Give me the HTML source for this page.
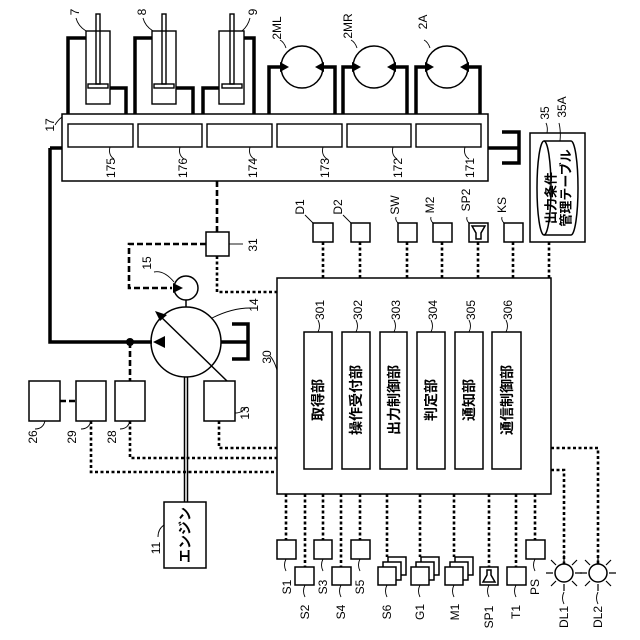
<!DOCTYPE html>
<html><head><meta charset="utf-8"><style>
html,body{margin:0;padding:0;background:#fff}
svg{display:block}
text{font-family:"Liberation Sans","Noto Sans CJK JP",sans-serif;fill:#000}
</style></head><body>
<svg width="640" height="640" viewBox="0 0 640 640" xmlns="http://www.w3.org/2000/svg">
<g fill="none" stroke="#000">
<rect x="62" y="114" width="426" height="67" stroke-width="1.5"/>
<g stroke-width="1.4">
<rect x="68" y="124" width="65" height="23"/>
<rect x="138" y="124" width="64" height="23"/>
<rect x="207" y="124" width="65" height="23"/>
<rect x="277" y="124" width="65" height="23"/>
<rect x="347" y="124" width="64" height="23"/>
<rect x="416" y="124" width="65" height="23"/>
</g>
<g stroke-width="1.4">
<rect x="86" y="31" width="24" height="73"/><rect x="96" y="14" width="4" height="70"/><rect x="88" y="84" width="20" height="4"/>
<rect x="152" y="31" width="24" height="73"/><rect x="162" y="14" width="4" height="70"/><rect x="154" y="84" width="20" height="4"/>
<rect x="219" y="31" width="25" height="73"/><rect x="230" y="14" width="4" height="70"/><rect x="222" y="84" width="20" height="4"/>
</g>
<g stroke-width="3.5">
<polyline points="68,114 68,38 86,38"/><polyline points="110,88 126,88 126,114"/>
<polyline points="135,114 135,38 152,38"/><polyline points="176,88 193,88 193,114"/>
<polyline points="203,114 203,88 219,88"/><polyline points="244,38 254,38 254,114"/>
<polyline points="269,114 269,67 281,67"/><polyline points="323,67 335,67 335,114"/>
<polyline points="343,114 343,67 353,67"/><polyline points="395,67 407,67 407,114"/>
<polyline points="416,114 416,67 426,67"/><polyline points="468,67 480,67 480,114"/>
<polyline points="488,148 519,148"/><polyline points="502,132 519,132 519,163 502,163"/>
<polyline points="50,148 62,148"/><polyline points="50,148 50,342 152,342"/>
<polyline points="221,342 248,342"/><polyline points="232,324 248,324 248,359 232,359"/>
</g>
<g stroke-width="1.5">
<circle cx="302" cy="67" r="21"/><circle cx="374" cy="67" r="21"/><circle cx="447" cy="67" r="21"/>
<circle cx="186" cy="342" r="35"/><circle cx="186" cy="288" r="12"/>
<line x1="186" y1="300" x2="186" y2="307"/>
<line x1="157" y1="313" x2="227" y2="381"/>
<rect x="206" y="232" width="23" height="24"/>
<rect x="277" y="278" width="274" height="216"/>
<rect x="304" y="332" width="28" height="137"/><rect x="342" y="332" width="28" height="137"/>
<rect x="380" y="332" width="27" height="137"/><rect x="417" y="332" width="28" height="137"/>
<rect x="455" y="332" width="28" height="137"/><rect x="492" y="332" width="29" height="137"/>
<rect x="204" y="381" width="31" height="40"/><rect x="115" y="381" width="30" height="40"/>
<rect x="76" y="381" width="30" height="40"/><rect x="29" y="381" width="31" height="40"/>
<rect x="164" y="502" width="42" height="66"/>
<line x1="184.5" y1="377" x2="184.5" y2="502"/><line x1="187.5" y1="377" x2="187.5" y2="502"/>
<rect x="530" y="133" width="55" height="109"/>
<path d="M544,141 L571,141 A7,47 0 0 1 571,235 L544,235 A7,47 0 0 1 544,141 Z"/>
<path d="M544,141 A7,47 0 0 1 544,235"/>
<rect x="313" y="223" width="20" height="19"/><rect x="351" y="223" width="19" height="19"/>
<rect x="398" y="223" width="19" height="19"/><rect x="433" y="223" width="19" height="19"/>
<rect x="469" y="223" width="19" height="19"/><path d="M472,226 L485,226 L481,233 L481,239 L476,239 L476,233 Z"/>
<rect x="504" y="223" width="19" height="19"/>
<rect x="277" y="540" width="19" height="19"/><rect x="295" y="567" width="19" height="18"/>
<rect x="314" y="540" width="18" height="19"/><rect x="332" y="567" width="19" height="18"/>
<rect x="351" y="540" width="19" height="19"/>
<rect x="388" y="557" width="18" height="18" fill="#fff"/><rect x="383" y="562" width="18" height="18" fill="#fff"/><rect x="378" y="567" width="18" height="18" fill="#fff"/>
<rect x="421" y="557" width="18" height="18" fill="#fff"/><rect x="416" y="562" width="18" height="18" fill="#fff"/><rect x="411" y="567" width="18" height="18" fill="#fff"/>
<rect x="455" y="557" width="18" height="18" fill="#fff"/><rect x="450" y="562" width="18" height="18" fill="#fff"/><rect x="445" y="567" width="18" height="18" fill="#fff"/>
<rect x="480" y="567" width="18" height="18"/><path d="M483,582 L495,582 L491,575 L491,570 L487,570 L487,575 Z"/>
<rect x="507" y="567" width="19" height="18"/>
<rect x="526" y="540" width="19" height="19"/>
<circle cx="564" cy="573" r="9"/><circle cx="598" cy="573" r="9"/>
</g>
<g stroke-width="1.2">
<path d="M564,562v-7M564,584v7M553,573h-7M575,573h7M556,565l-5,-5M572,565l5,-5M556,581l-5,5M572,581l5,5"/>
<path d="M598,562v-7M598,584v7M587,573h-7M609,573h7M590,565l-5,-5M606,565l5,-5M590,581l-5,5M606,581l5,5"/>
</g>
<g stroke-width="2.6" stroke-dasharray="6,3">
<polyline points="217,181 217,232"/><polyline points="206,244 129,244 129,288 172,288"/>
<polyline points="130,342 130,381"/><polyline points="60,401 76,401"/>
</g>
<g stroke-width="2.6" stroke-dasharray="3,2.5">
<polyline points="217,256 217,292 277,292"/>
<polyline points="219,421 219,448 277,448"/><polyline points="130,421 130,458 277,458"/><polyline points="91,421 91,472 277,472"/>
<line x1="323" y1="242" x2="323" y2="278"/><line x1="360" y1="242" x2="360" y2="278"/><line x1="407" y1="242" x2="407" y2="278"/>
<line x1="442" y1="242" x2="442" y2="278"/><line x1="478" y1="242" x2="478" y2="278"/><line x1="513" y1="242" x2="513" y2="278"/>
<line x1="549" y1="242" x2="549" y2="278"/>
<line x1="286" y1="494" x2="286" y2="540"/><line x1="305" y1="494" x2="305" y2="567"/><line x1="323" y1="494" x2="323" y2="540"/>
<line x1="341" y1="494" x2="341" y2="567"/><line x1="360" y1="494" x2="360" y2="540"/><line x1="387" y1="494" x2="387" y2="557"/>
<line x1="420" y1="494" x2="420" y2="557"/><line x1="454" y1="494" x2="454" y2="557"/><line x1="489" y1="494" x2="489" y2="567"/>
<line x1="516" y1="494" x2="516" y2="567"/><line x1="535" y1="494" x2="535" y2="540"/>
<polyline points="551,470 564,470 564,564"/><polyline points="551,448 598,448 598,564"/>
</g>
<g stroke-width="0.9">
<path d="M76,18 q2,8 10,13"/><path d="M143,18 q2,8 10,13"/><path d="M250,18 q-2,8 -8,13"/>
<path d="M286,48 q-2,-6 -6,-8"/><path d="M357,48 q-2,-6 -6,-8"/><path d="M430,48 q-2,-6 -6,-8"/>
<path d="M55,125 q3,-5 7,-8"/>
<path d="M110,147 q-2,8 4,12"/><path d="M180,147 q-2,8 4,12"/><path d="M250,147 q-2,8 4,12"/><path d="M323,147 q-2,8 4,12"/><path d="M393,147 q-2,8 4,12"/><path d="M465,147 q-2,8 4,12"/>
<path d="M547,133 q1,-6 -1,-10"/><path d="M560,141 q1,-10 -1,-18"/>
<path d="M313,223 q-3,-3 -8,-8"/><path d="M351,223 q-3,-3 -8,-8"/><path d="M398,223 q-3,-3 -2,-6"/><path d="M433,223 q-3,-3 -2,-6"/><path d="M469,223 q-3,-3 -2,-6"/><path d="M504,223 q-3,-3 -2,-6"/>
<path d="M229,244 q10,0 14,0"/><path d="M174,282 q-10,-12 -20,-10"/><path d="M212,318 q20,-10 38,-10"/>
<path d="M277,370 q-3,-10 -7,-14"/><path d="M235,413 q8,0 10,-6"/>
<path d="M130,421 q-2,8 -10,8"/><path d="M91,421 q-2,8 -10,8"/><path d="M45,421 q-2,8 -10,8"/>
<path d="M164,525 q-6,4 -6,12"/>
<path d="M318,332 q3,-6 0,-12"/><path d="M356,332 q3,-6 0,-12"/><path d="M394,332 q3,-6 0,-12"/><path d="M431,332 q3,-6 0,-12"/><path d="M469,332 q3,-6 0,-12"/><path d="M506,332 q3,-6 0,-12"/>
<path d="M286,559 q-3,6 0,12"/><path d="M305,585 q-3,6 0,12"/><path d="M323,559 q-3,6 0,12"/><path d="M341,585 q-3,6 0,12"/><path d="M360,559 q-3,6 0,12"/>
<path d="M387,585 q-3,6 0,12"/><path d="M420,585 q-3,6 0,12"/><path d="M454,585 q-3,6 0,12"/><path d="M489,585 q-3,6 0,12"/><path d="M516,585 q-3,6 0,12"/><path d="M535,559 q-3,6 0,12"/>
<path d="M564,592 q-3,6 0,12"/><path d="M598,592 q-3,6 0,12"/>
</g>
</g>
<g fill="#000">
<polygon points="289,67 280,62 280,72"/>
<polygon points="315,67 324,62 324,72"/>
<polygon points="361,67 352,62 352,72"/>
<polygon points="387,67 396,62 396,72"/>
<polygon points="434,67 425,62 425,72"/>
<polygon points="460,67 469,62 469,72"/>
<polygon points="153,342 165,336 165,348"/>
<polygon points="183,288 173,283 173,293"/>
<polygon points="155,311 167,315 160,321"/>
<circle cx="130" cy="342" r="4"/>
</g>
<g font-size="12" text-anchor="middle" dominant-baseline="central">
<text transform="translate(75,12) rotate(-90)">7</text>
<text transform="translate(142,12) rotate(-90)">8</text>
<text transform="translate(253,12) rotate(-90)">9</text>
<text transform="translate(277,28) rotate(-90)">2ML</text>
<text transform="translate(348,26) rotate(-90)">2MR</text>
<text transform="translate(423,22) rotate(-90)">2A</text>
<text transform="translate(50,125) rotate(-90)">17</text>
<text transform="translate(111,168) rotate(-90)">175</text>
<text transform="translate(183,168) rotate(-90)">176</text>
<text transform="translate(253,168) rotate(-90)">174</text>
<text transform="translate(325,168) rotate(-90)">173</text>
<text transform="translate(398,168) rotate(-90)">172</text>
<text transform="translate(470,168) rotate(-90)">171</text>
<text transform="translate(545,113) rotate(-90)">35</text>
<text transform="translate(562,107) rotate(-90)">35A</text>
<text transform="translate(300,207) rotate(-90)">D1</text>
<text transform="translate(338,207) rotate(-90)">D2</text>
<text transform="translate(395,205) rotate(-90)">SW</text>
<text transform="translate(430,205) rotate(-90)">M2</text>
<text transform="translate(466,200) rotate(-90)">SP2</text>
<text transform="translate(502,205) rotate(-90)">KS</text>
<text transform="translate(253,245) rotate(-90)">31</text>
<text transform="translate(147,263) rotate(-90)">15</text>
<text transform="translate(254,305) rotate(-90)">14</text>
<text transform="translate(267,357) rotate(-90)">30</text>
<text transform="translate(245,413) rotate(-90)">13</text>
<text transform="translate(112,437) rotate(-90)">28</text>
<text transform="translate(72,437) rotate(-90)">29</text>
<text transform="translate(33,437) rotate(-90)">26</text>
<text transform="translate(156,548) rotate(-90)">11</text>
<text transform="translate(320,310) rotate(-90)">301</text>
<text transform="translate(358,310) rotate(-90)">302</text>
<text transform="translate(396,310) rotate(-90)">303</text>
<text transform="translate(433,310) rotate(-90)">304</text>
<text transform="translate(471,310) rotate(-90)">305</text>
<text transform="translate(508,310) rotate(-90)">306</text>
<text transform="translate(287,587) rotate(-90)">S1</text>
<text transform="translate(305,612) rotate(-90)">S2</text>
<text transform="translate(323,587) rotate(-90)">S3</text>
<text transform="translate(341,612) rotate(-90)">S4</text>
<text transform="translate(360,587) rotate(-90)">S5</text>
<text transform="translate(387,612) rotate(-90)">S6</text>
<text transform="translate(420,612) rotate(-90)">G1</text>
<text transform="translate(455,612) rotate(-90)">M1</text>
<text transform="translate(489,617) rotate(-90)">SP1</text>
<text transform="translate(516,612) rotate(-90)">T1</text>
<text transform="translate(535,587) rotate(-90)">PS</text>
<text transform="translate(564,617) rotate(-90)">DL1</text>
<text transform="translate(598,617) rotate(-90)">DL2</text>
</g>
<g font-size="14" text-anchor="middle" dominant-baseline="central" font-weight="bold">
<text transform="translate(318,400) rotate(-90)">取得部</text>
<text transform="translate(356,400) rotate(-90)">操作受付部</text>
<text transform="translate(394,400) rotate(-90)">出力制御部</text>
<text transform="translate(431,400) rotate(-90)">判定部</text>
<text transform="translate(469,400) rotate(-90)">通知部</text>
<text transform="translate(507,400) rotate(-90)">通信制御部</text>
<text transform="translate(185,535) rotate(-90)" font-size="14">エンジン</text>
</g>
<g font-size="13" text-anchor="middle" dominant-baseline="central" font-weight="bold">
<text transform="translate(551,198) rotate(-90)">出力条件</text>
<text transform="translate(566,188) rotate(-90)">管理テーブル</text>
</g>
</svg>
</body></html>
